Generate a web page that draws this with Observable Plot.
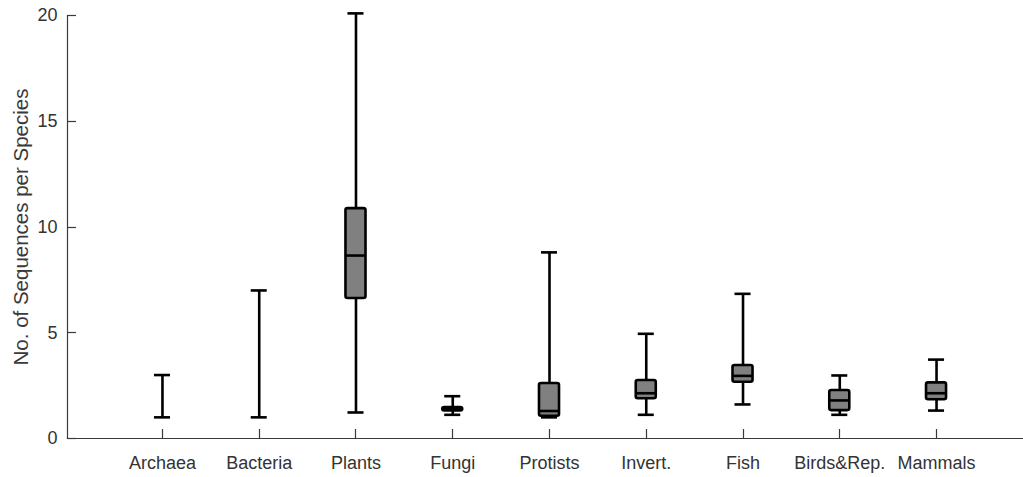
<!DOCTYPE html>
<html>
<head>
<meta charset="utf-8">
<script src="https://cdn.jsdelivr.net/npm/d3@7"></script>
<script src="https://cdn.jsdelivr.net/npm/@observablehq/plot@0.6"></script>
<style>
  html, body { margin: 0; padding: 0; background: #fff; overflow: hidden; }
  #chart svg { display: block; }
</style>
</head>
<body>
<div id="chart"></div>
<script>
// Sequences per species, by taxonomic group (box-and-whisker summaries)
const groups  = ["Archaea", "Bacteria", "Plants", "Fungi", "Protists", "Invert.", "Fish", "Birds&Rep.", "Mammals"];
const lows    = [1.0, 1.0, 1.23, 1.12, 1.0,  1.12, 1.61, 1.12, 1.32];
const q1s     = [1.0, 1.0, 6.62, 1.30, 1.05, 1.88, 2.66, 1.32, 1.83];
const medians = [1.0, 1.0, 8.65, 1.38, 1.30, 2.14, 2.96, 1.80, 2.14];
const q3s     = [1.0, 1.0, 10.87, 1.46, 2.60, 2.74, 3.45, 2.27, 2.63];
const highs   = [3.0, 7.0, 20.1, 2.0,  8.80, 4.95, 6.84, 2.98, 3.73];
const yTicks  = [0, 5, 10, 15, 20];
const yLabel  = "No. of Sequences per Species";

const rows = groups.map((g, i) => ({
  group: g, low: lows[i], q1: q1s[i], median: medians[i], q3: q3s[i], high: highs[i],
  hasBox: q3s[i] > q1s[i]
}));
const boxes = rows.filter(d => d.hasBox);

const font = "'Liberation Sans', Arial, sans-serif";
const axisColor = "#3a3a3a";
const tickLen = 9;

// Tick marks that point into the plot area, placed with the chart's scales
function inwardTicks(index, scales, values, dims) {
  const g = d3.create("svg:g").attr("stroke", axisColor).attr("stroke-width", 1.2);
  const left = dims.marginLeft;
  const bottom = dims.height - dims.marginBottom;
  for (const t of yTicks) {
    const y = Math.round(scales.y(t)) + 0.5;
    g.append("line").attr("x1", left).attr("x2", left + tickLen).attr("y1", y).attr("y2", y);
  }
  const bw = scales.x.bandwidth ? scales.x.bandwidth() : 0;
  for (const name of groups) {
    const x = Math.round(scales.x(name) + bw / 2) + 0.5;
    g.append("line").attr("x1", x).attr("x2", x).attr("y1", bottom).attr("y2", bottom - tickLen);
  }
  return g.node();
}

const chart = Plot.plot({
  width: 1023,
  height: 477,
  marginLeft: 67,
  marginRight: 0,
  marginTop: 15,
  marginBottom: 39,
  style: {fontFamily: font, fontSize: "18px", color: "#333", background: "#fff"},
  x: {type: "band", domain: groups, range: [67, 1031], round: false, paddingInner: 0.793, paddingOuter: 0.878, label: null},
  y: {domain: [0, 20], ticks: yTicks, label: null},
  marks: [
    // axis lines
    Plot.frame({anchor: "left", stroke: axisColor, strokeWidth: 1.2}),
    Plot.frame({anchor: "bottom", stroke: axisColor, strokeWidth: 1.2}),
    inwardTicks,
    // tick labels
    Plot.axisY({ticks: yTicks, tickSize: 0, tickPadding: 10, fontSize: 18, fill: "#333", label: null}),
    Plot.axisX({tickSize: 0, tickPadding: 18, fontSize: 18, fill: "#333", label: null}),
    Plot.text([yLabel], {text: d => d, frameAnchor: "left", dx: -46, rotate: -90, fontSize: 20.5, fill: "#3a3a3a", textAnchor: "middle", lineAnchor: "middle"}),
    // whiskers
    Plot.ruleX(rows, {x: "group", y1: "low", y2: "high", stroke: "#000", strokeWidth: 2.6}),
    Plot.tickY(rows, {x: "group", y: "low", stroke: "#000", strokeWidth: 2.6, inset: 2}),
    Plot.tickY(rows, {x: "group", y: "high", stroke: "#000", strokeWidth: 2.6, inset: 2}),
    // boxes and medians
    Plot.barY(boxes, {x: "group", y1: "q1", y2: "q3", fill: "#808080", stroke: "#000", strokeWidth: 2.6, rx: 2}),
    Plot.tickY(boxes, {x: "group", y: "median", stroke: "#000", strokeWidth: 2.6})
  ]
});

document.getElementById("chart").appendChild(chart);
</script>
</body>
</html>
